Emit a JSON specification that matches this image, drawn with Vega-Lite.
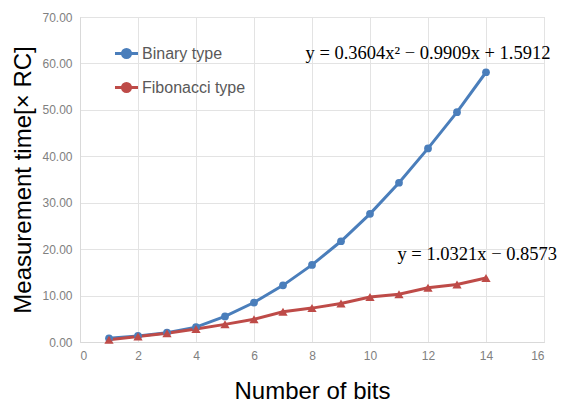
{
  "$schema": "https://vega.github.io/schema/vega-lite/v6.json",
  "width": 464,
  "height": 325,
  "autosize": "none",
  "padding": {"left": 80, "top": 17, "right": 18, "bottom": 66},
  "background": "white",
  "config": {
    "font": "Liberation Sans",
    "view": {"stroke": "#d9d9d9", "strokeWidth": 1},
    "axis": {
      "gridColor": "#e3e3e3",
      "domainColor": "#d9d9d9",
      "tickSize": 0,
      "labelColor": "#808080",
      "labelFontSize": 12,
      "titleColor": "#000000",
      "titleFontSize": 24,
      "titleFontWeight": "normal",
      "labelFont": "Liberation Sans",
      "titleFont": "Liberation Sans"
    }
  },
  "datasets": {
    "points": [
      {"bits": 1, "series": "Binary type", "time": 0.8},
      {"bits": 2, "series": "Binary type", "time": 1.3},
      {"bits": 3, "series": "Binary type", "time": 2.0},
      {"bits": 4, "series": "Binary type", "time": 3.2},
      {"bits": 5, "series": "Binary type", "time": 5.5},
      {"bits": 6, "series": "Binary type", "time": 8.5},
      {"bits": 7, "series": "Binary type", "time": 12.2},
      {"bits": 8, "series": "Binary type", "time": 16.6},
      {"bits": 9, "series": "Binary type", "time": 21.7},
      {"bits": 10, "series": "Binary type", "time": 27.6},
      {"bits": 11, "series": "Binary type", "time": 34.3},
      {"bits": 12, "series": "Binary type", "time": 41.7},
      {"bits": 13, "series": "Binary type", "time": 49.5},
      {"bits": 14, "series": "Binary type", "time": 58.1},
      {"bits": 1, "series": "Fibonacci type", "time": 0.5},
      {"bits": 2, "series": "Fibonacci type", "time": 1.2},
      {"bits": 3, "series": "Fibonacci type", "time": 1.9},
      {"bits": 4, "series": "Fibonacci type", "time": 2.8},
      {"bits": 5, "series": "Fibonacci type", "time": 3.8},
      {"bits": 6, "series": "Fibonacci type", "time": 4.9},
      {"bits": 7, "series": "Fibonacci type", "time": 6.5},
      {"bits": 8, "series": "Fibonacci type", "time": 7.3},
      {"bits": 9, "series": "Fibonacci type", "time": 8.3},
      {"bits": 10, "series": "Fibonacci type", "time": 9.7},
      {"bits": 11, "series": "Fibonacci type", "time": 10.3},
      {"bits": 12, "series": "Fibonacci type", "time": 11.7},
      {"bits": 13, "series": "Fibonacci type", "time": 12.4},
      {"bits": 14, "series": "Fibonacci type", "time": 13.8}
    ],
    "labels": [
      {"bits": 12.0, "time": 62.2, "label": "y = 0.3604x² − 0.9909x + 1.5912"},
      {"bits": 13.7, "time": 19.0, "label": "y = 1.0321x − 0.8573"}
    ]
  },
  "layer": [
    {
      "data": {"name": "points"},
      "mark": {"type": "line", "strokeWidth": 3},
      "encoding": {
        "x": {
          "field": "bits", "type": "quantitative",
          "scale": {"domain": [0, 16], "nice": false},
          "axis": {"values": [0, 2, 4, 6, 8, 10, 12, 14, 16], "title": "Number of bits", "labelPadding": 8, "titlePadding": 18}
        },
        "y": {
          "field": "time", "type": "quantitative",
          "scale": {"domain": [0, 70], "nice": false},
          "axis": {"values": [0, 10, 20, 30, 40, 50, 60, 70], "format": ".2f", "title": "Measurement time[× RC]", "labelPadding": 8, "titlePadding": 6}
        },
        "color": {
          "field": "series", "type": "nominal",
          "scale": {"domain": ["Binary type", "Fibonacci type"], "range": ["#4a7ebb", "#be4b48"]},
          "legend": {
            "title": null,
            "orient": "none",
            "legendX": 33,
            "legendY": 23,
            "labelFontSize": 16,
            "labelColor": "#595959",
            "labelFont": "Liberation Sans",
            "rowPadding": 10,
            "labelOffset": 2,
            "symbolType": "M-1,0H1M-0.35,0A0.35,0.35,0,1,1,0.35,0A0.35,0.35,0,1,1,-0.35,0Z",
            "symbolSize": 530,
            "symbolStrokeWidth": 3
          }
        }
      }
    },
    {
      "data": {"name": "points"},
      "transform": [{"filter": "datum.series === 'Binary type'"}],
      "mark": {"type": "point", "shape": "circle", "filled": true, "size": 60, "opacity": 1},
      "encoding": {
        "x": {"field": "bits", "type": "quantitative"},
        "y": {"field": "time", "type": "quantitative"},
        "color": {"field": "series", "type": "nominal"}
      }
    },
    {
      "data": {"name": "points"},
      "transform": [{"filter": "datum.series === 'Fibonacci type'"}],
      "mark": {"type": "point", "shape": "triangle-up", "filled": true, "size": 85, "opacity": 1},
      "encoding": {
        "x": {"field": "bits", "type": "quantitative"},
        "y": {"field": "time", "type": "quantitative"},
        "color": {"field": "series", "type": "nominal"}
      }
    },
    {
      "data": {"name": "labels"},
      "mark": {"type": "text", "font": "Liberation Serif", "fontSize": 18.5, "color": "#000000"},
      "encoding": {
        "x": {"field": "bits", "type": "quantitative"},
        "y": {"field": "time", "type": "quantitative"},
        "text": {"field": "label"}
      }
    }
  ]
}
